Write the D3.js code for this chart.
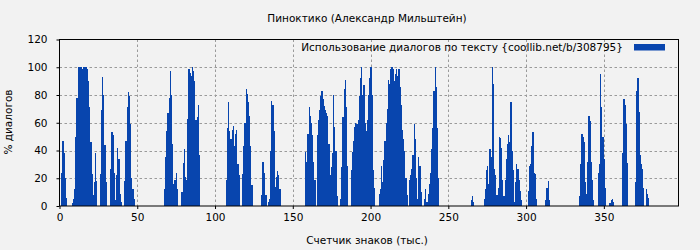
<!DOCTYPE html>
<html>
<head>
<meta charset="utf-8">
<script src="https://cdn.jsdelivr.net/npm/d3@7"></script>
<style>
body { margin: 0; background: #f2f2f2; }
text { font-family: "DejaVu Sans", sans-serif; font-size: 10.5px; fill: #000; }
</style>
</head>
<body>
<script>
var chartTitle = 'Пиноктико (Александр Мильштейн)';
var legendLabel = 'Использование диалогов по тексту {coollib.net/b/308795}';
var xLabel = 'Счетчик знаков (тыс.)';
var yLabel = '% диалогов';

var xTicks = [0, 50, 100, 150, 200, 250, 300, 350];
var yTicks = [0, 20, 40, 60, 80, 100, 120];

// one bar every 0.75 thousand chars
var step = 0.75;
var dialogShare = [
  0, 24, 47, 38, 20, 6, 0, 0, 0, 0,
  2, 5, 12, 50, 78, 100, 100, 100, 100, 99,
  100, 100, 100, 99, 90, 71, 46, 23, 8, 17,
  38, 18, 0, 0, 23, 69, 93, 80, 44, 17,
  0, 0, 0, 27, 53, 51, 24, 4, 22, 42,
  34, 9, 3, 0, 0, 18, 47, 71, 82, 79,
  59, 20, 12, 5, 0, 0, 0, 0, 0, 0,
  0, 0, 0, 0, 0, 0, 0, 0, 0, 0,
  0, 0, 0, 0, 0, 0, 0, 0, 0, 12,
  35, 54, 67, 78, 97, 80, 45, 16, 19, 24,
  12, 0, 0, 0, 10, 31, 41, 21, 19, 63,
  99, 96, 94, 100, 97, 90, 62, 64, 73, 37,
  0, 0, 0, 0, 0, 0, 0, 0, 0, 0,
  0, 0, 0, 0, 0, 0, 0, 0, 0, 0,
  0, 0, 19, 56, 75, 54, 48, 55, 58, 43,
  52, 55, 30, 22, 0, 0, 23, 43, 60, 84,
  81, 75, 65, 43, 15, 0, 0, 0, 0, 0,
  0, 0, 8, 32, 32, 24, 8, 0, 3, 5,
  40, 76, 73, 54, 14, 21, 25, 22, 12, 0,
  0, 0, 0, 0, 0, 0, 0, 0, 0, 0,
  0, 0, 0, 0, 0, 0, 0, 0, 0, 0,
  39, 32, 52, 71, 65, 60, 51, 32, 19, 0,
  51, 62, 69, 79, 83, 77, 72, 69, 67, 65,
  45, 22, 28, 38, 80, 57, 40, 7, 0, 0,
  5, 28, 64, 84, 91, 71, 29, 0, 0, 26,
  39, 47, 57, 60, 59, 62, 79, 92, 100, 80,
  87, 60, 54, 62, 80, 92, 100, 80, 26, 13,
  0, 0, 0, 9, 12, 29, 17, 33, 47, 60,
  70, 91, 88, 99, 100, 99, 90, 95, 99, 94,
  99, 86, 73, 55, 48, 40, 20, 8, 0, 19,
  22, 27, 37, 59, 48, 20, 5, 35, 29, 10,
  0, 0, 5, 12, 3, 9, 16, 24, 41, 56,
  83, 100, 86, 56, 20, 0, 0, 0, 0, 0,
  0, 0, 0, 0, 0, 0, 0, 0, 0, 0,
  0, 0, 0, 0, 0, 0, 0, 0, 0, 0,
  0, 0, 4, 7, 3, 0, 0, 0, 0, 0,
  0, 0, 0, 5, 12, 26, 29, 16, 41, 35,
  100, 88, 27, 22, 8, 13, 50, 49, 42, 19,
  7, 19, 34, 45, 51, 46, 75, 40, 26, 3,
  17, 30, 27, 19, 11, 4, 0, 0, 0, 0,
  0, 11, 29, 30, 43, 53, 24, 23, 5, 0,
  0, 0, 0, 0, 0, 0, 4, 13, 18, 4,
  0, 0, 0, 0, 0, 0, 0, 0, 0, 0,
  0, 0, 0, 0, 0, 0, 0, 0, 0, 0,
  0, 0, 0, 0, 0, 7, 30, 52, 50, 46,
  17, 9, 32, 65, 61, 32, 19, 4, 0, 0,
  0, 24, 30, 95, 71, 50, 34, 13, 0, 0,
  0, 2, 4, 5, 3, 0, 0, 0, 0, 0,
  0, 0, 38, 77, 73, 59, 31, 0, 0, 0,
  0, 0, 0, 17, 83, 92, 68, 37, 30, 27,
  13, 0, 12, 9, 6
];

var w = 700,
    h = 250;
var plot = {left: 59.5, right: 678.5, top: 39.5, bottom: 206};

var svg = d3.select('body')
  .append('svg')
  .attr('width', w)
  .attr('height', h)
  .style('display', 'block');

svg.append('rect')
  .attr('width', w)
  .attr('height', h)
  .attr('fill', '#f2f2f2');

var x = d3.scaleLinear()
  .domain([0, 398])
  .range([plot.left, plot.right]);

var y = d3.scaleLinear()
  .domain([0, 120])
  .range([plot.bottom, plot.top]);

// dotted grid, behind the bars
var grid = svg.append('g')
  .attr('stroke', '#9a9a9a')
  .attr('stroke-width', 1)
  .attr('stroke-dasharray', '2.5,2.5');

grid.selectAll('line.gy')
  .data(yTicks.filter(function(d) { return d > 0 && d < 120; }))
  .enter().append('line')
  .attr('x1', plot.left)
  .attr('x2', plot.right)
  .attr('y1', function(d) { return Math.round(y(d)) + 0.5; })
  .attr('y2', function(d) { return Math.round(y(d)) + 0.5; });

grid.selectAll('line.gx')
  .data(xTicks.filter(function(d) { return d > 0; }))
  .enter().append('line')
  .attr('y1', plot.top)
  .attr('y2', plot.bottom)
  .attr('x1', function(d) { return Math.round(x(d)) + 0.5; })
  .attr('x2', function(d) { return Math.round(x(d)) + 0.5; });

// bars snapped to whole pixels so neighbours butt without seams
function barLeft(i) {
    return Math.round(x((i + 0.5) * step));
}

svg.append('g')
  .attr('fill', '#0845ae')
  .attr('shape-rendering', 'crispEdges')
  .selectAll('rect')
  .data(dialogShare)
  .enter().append('rect')
  .attr('x', function(d, i) { return barLeft(i); })
  .attr('width', function(d, i) { return barLeft(i + 1) - barLeft(i); })
  .attr('y', function(d) { return y(d); })
  .attr('height', function(d) { return y(0) - y(d); });

// frame
svg.append('rect')
  .attr('x', plot.left)
  .attr('y', plot.top)
  .attr('width', plot.right - plot.left)
  .attr('height', plot.bottom - plot.top)
  .attr('fill', 'none')
  .attr('stroke', '#000')
  .attr('stroke-width', 1);

// axes
var xAxis = d3.axisBottom(x)
  .tickValues(xTicks)
  .tickSize(3)
  .tickPadding(5);
var gx = svg.append('g')
  .attr('transform', 'translate(0,' + plot.bottom + ')')
  .call(xAxis);
gx.select('.domain').remove();
gx.selectAll('text').style('font-size', '10.5px').style('font-family', 'DejaVu Sans');

var yAxis = d3.axisLeft(y)
  .tickValues(yTicks)
  .tickSize(3)
  .tickPadding(9);
var gy = svg.append('g')
  .attr('transform', 'translate(' + plot.left + ',0)')
  .call(yAxis);
gy.select('.domain').remove();
gy.selectAll('text').style('font-size', '10.5px').style('font-family', 'DejaVu Sans');

// titles
svg.append('text')
  .attr('x', 367)
  .attr('y', 22)
  .attr('text-anchor', 'middle')
  .text(chartTitle);

svg.append('text')
  .attr('x', 367)
  .attr('y', 244)
  .attr('text-anchor', 'middle')
  .text(xLabel);

svg.append('text')
  .attr('transform', 'translate(12,122) rotate(-90)')
  .attr('text-anchor', 'middle')
  .text(yLabel);

// legend
svg.append('text')
  .attr('x', 623)
  .attr('y', 51)
  .attr('text-anchor', 'end')
  .text(legendLabel);

svg.append('rect')
  .attr('x', 634)
  .attr('y', 44)
  .attr('width', 31)
  .attr('height', 6.5)
  .attr('fill', '#0845ae');
</script>
</body>
</html>
